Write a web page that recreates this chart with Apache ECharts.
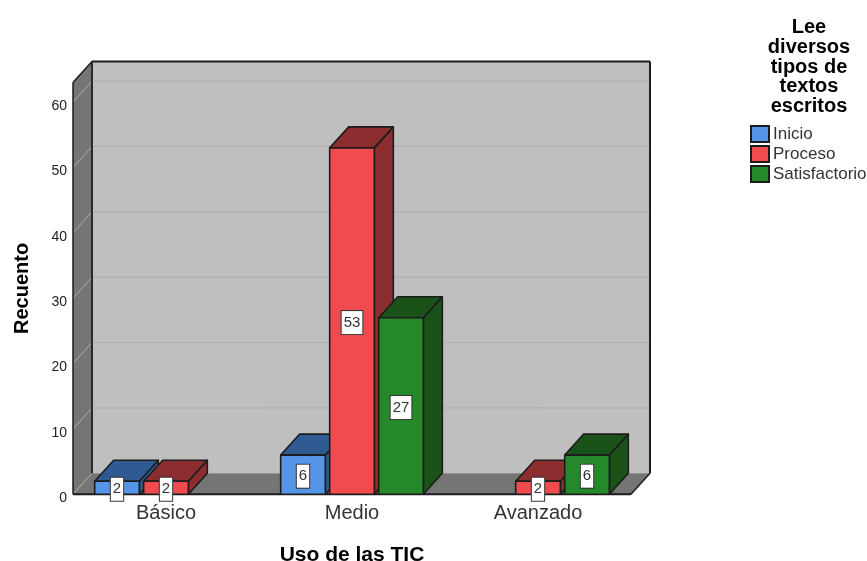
<!DOCTYPE html>
<html><head><meta charset="utf-8">
<style>html,body{margin:0;padding:0;background:#fff}#c{width:867px;height:561px}</style>
<script src="https://cdn.jsdelivr.net/npm/echarts@6/dist/echarts.min.js"></script>
</head><body><div id="c"></div>
<script>
const categories = ['Básico', 'Medio', 'Avanzado'];
const inicio = [2, 6, null];
const proceso = [2, 53, 2];
const satisfactorio = [null, 27, 6];
const yTicks = [0, 10, 20, 30, 40, 50, 60];
const legendTitle = 'Lee\ndiversos\ntipos de\ntextos\nescritos';

const FONT = '"Liberation Sans", Arial, sans-serif';
const DX = 19, DY = -21;
const EDGE = '#1c1c1c';
const wallStyle = {fill: '#bfbfbf', stroke: null};

function poly(points, fill, z2) {
  return {type: 'polygon', z2: z2 || 0, shape: {points}, style: {fill, stroke: null}};
}
function line(x1, y1, x2, y2, stroke, lineWidth, z2) {
  return {type: 'line', z2: z2 || 1, shape: {x1, y1, x2, y2}, style: {stroke, lineWidth}};
}
function renderWalls(params, api) {
  const r = params.coordSys;
  const L = r.x, T = r.y, R = r.x + r.width, B = r.y + r.height;
  const c = [];
  c.push(poly([[L + DX, T + DY], [R + DX, T + DY], [R + DX, B + DY], [L + DX, B + DY]], wallStyle.fill));
  c.push(poly([[L, T], [L + DX, T + DY], [L + DX, B + DY], [L, B]], '#757575'));
  c.push(poly([[L, B], [L + DX, B + DY], [R + DX, B + DY], [R, B]], '#757575'));
  yTicks.forEach(t => {
    const y = api.coord([0, t])[1];
    if (t > 0) c.push(line(L + DX, y + DY, R + DX, y + DY, '#aeaeae', 1));
    c.push(line(L, y, L + DX, y + DY, '#adadad', 1));
  });
  c.push(line(L + DX, T + DY, R + DX, T + DY, EDGE, 2, 2));
  c.push(line(L, T, L + DX, T + DY, EDGE, 1.5, 2));
  c.push(line(L, T, L, B, EDGE, 1.5, 2));
  c.push(line(L + DX, T + DY, L + DX, B + DY, '#2a2a2a', 2, 2));
  c.push(line(R + DX, T + DY, R + DX, B + DY, EDGE, 2, 2));
  c.push(line(R, B, R + DX, B + DY, EDGE, 1.5, 2));
  c.push(line(L, B, R, B, EDGE, 2, 2));
  return {type: 'group', children: c};
}
function makeBars(slot, front, dark) {
  return function (params, api) {
    const v = api.value(1);
    if (v === null || isNaN(v)) return;
    const band = api.size([1, 0])[0];
    const base = api.coord([api.value(0), 0]);
    const top = api.coord([api.value(0), v]);
    const mid = api.coord([api.value(0), v / 2]);
    const w = band * 0.24, cx = base[0] + slot * band * 0.2635;
    const x0 = cx - w / 2, x1 = cx + w / 2, yb = base[1], yt = top[1];
    const st = f => ({fill: f, stroke: EDGE, lineWidth: 1.6, lineJoin: 'round'});
    return {type: 'group', children: [
      {type: 'polygon', shape: {points: [[x1, yb], [x1 + DX, yb + DY], [x1 + DX, yt + DY], [x1, yt]]}, style: st(dark)},
      {type: 'polygon', shape: {points: [[x0, yt], [x0 + DX, yt + DY], [x1 + DX, yt + DY], [x1, yt]]}, style: st(dark)},
      {type: 'rect', shape: {x: x0, y: yt, width: w, height: yb - yt}, style: st(front)},
      {type: 'text', z2: 10, x: cx, y: mid[1] + 1.5, style: {
        text: String(v), x: 0, y: 0, align: 'center', verticalAlign: 'middle',
        font: '15px ' + FONT, fill: '#333', backgroundColor: '#fff',
        borderColor: '#333', borderWidth: 1, padding: [4, 2, 4, 2]
      }}
    ]};
  };
}
function barSeries(name, values, slot, front, dark, z) {
  return {
    name, type: 'custom', z, coordinateSystem: 'cartesian2d', silent: true,
    itemStyle: {color: front, borderColor: EDGE, borderWidth: 1.5},
    encode: {x: 0, y: 1}, clip: false,
    data: values.map((v, i) => [i, v]),
    renderItem: makeBars(slot, front, dark)
  };
}
const chart = echarts.init(document.getElementById('c'), null, {renderer: 'canvas'});
chart.setOption({
  animation: false,
  backgroundColor: '#fff',
  textStyle: {fontFamily: FONT},
  title: {
    text: legendTitle, left: 809, top: 18, padding: 0, textAlign: 'center',
    textStyle: {fontFamily: FONT, fontWeight: 'bold', fontSize: 20, lineHeight: 19.6, color: '#000'}
  },
  legend: {
    orient: 'vertical', left: 750, top: 125, padding: 0, itemWidth: 18, itemHeight: 16, itemGap: 2,
    icon: 'rect', selectedMode: false,
    textStyle: {fontFamily: FONT, fontSize: 17, color: '#333', padding: [2, 0, 0, -1]},
    data: ['Inicio', 'Proceso', 'Satisfactorio']
  },
  grid: {left: 73, right: 236, top: 82.5, bottom: 66.7, containLabel: false, outerBoundsMode: 'none'},
  xAxis: {
    type: 'category', data: categories,
    axisLine: {show: false}, axisTick: {show: false},
    axisLabel: {fontFamily: FONT, fontSize: 20, color: '#333', margin: 9},
    name: 'Uso de las TIC', nameLocation: 'middle', nameGap: 50,
    nameTextStyle: {fontFamily: FONT, fontWeight: 'bold', fontSize: 21, color: '#000'}
  },
  yAxis: {
    type: 'value', min: 0, max: 63, interval: 10,
    axisLine: {show: false}, axisTick: {show: false}, splitLine: {show: false},
    axisLabel: {
      margin: 6, showMaxLabel: false, formatter: '{t|{value}}',
      rich: {t: {fontFamily: FONT, fontSize: 14, color: '#222', padding: [8, 0, 0, 0]}}
    },
    name: 'Recuento', nameLocation: 'middle', nameGap: 41, nameRotate: 90,
    nameTextStyle: {fontFamily: FONT, fontWeight: 'bold', fontSize: 20, color: '#000'}
  },
  series: [
    {type: 'custom', z: 1, silent: true, clip: false, data: [[0, 0]], encode: {x: 0, y: 1}, renderItem: renderWalls},
    barSeries('Inicio', inicio, -1, '#5595e8', '#2f5a92', 2),
    barSeries('Proceso', proceso, 0, '#f04c4f', '#8c2d2f', 3),
    barSeries('Satisfactorio', satisfactorio, 1, '#25882b', '#1a5219', 4)
  ]
});
</script></body></html>
